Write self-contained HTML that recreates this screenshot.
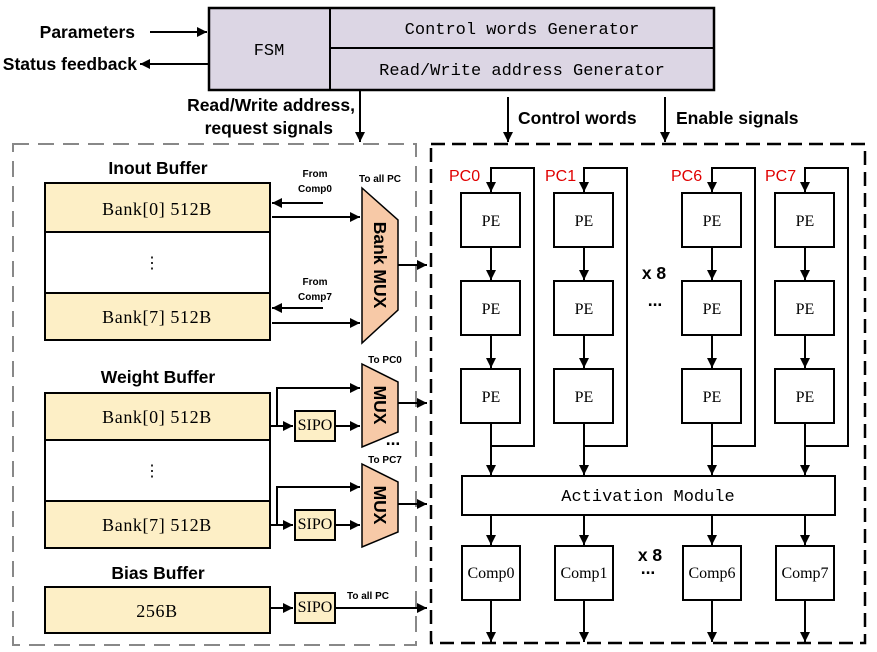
<!DOCTYPE html>
<html><head><meta charset="utf-8"><style>
html,body{margin:0;padding:0;background:#fff;}
svg{display:block;}
.lb{font-family:"Liberation Sans",sans-serif;font-weight:bold;font-size:17.5px;fill:#000;}
.sm{font-family:"Liberation Sans",sans-serif;font-weight:bold;font-size:10px;fill:#000;}
.sr{font-family:"Liberation Serif",serif;font-size:16px;fill:#000;}
.bk{font-family:"Liberation Serif",serif;font-size:18px;letter-spacing:0.6px;fill:#000;}
.mo{font-family:"Liberation Mono",monospace;font-size:17px;fill:#000;}
.pc{font-family:"Liberation Sans",sans-serif;font-size:16px;fill:#e00000;}
</style></head><body>
<svg width="877" height="652" viewBox="0 0 877 652" xmlns="http://www.w3.org/2000/svg">
<defs>
<marker id="a" viewBox="0 0 10 10" refX="10" refY="5" markerWidth="10" markerHeight="10" markerUnits="userSpaceOnUse" orient="auto"><path d="M0,0 L10,5 L0,10 z" fill="#000"/></marker>
</defs>
<g stroke="#000" stroke-width="2" fill="none">
<rect x="209" y="8" width="505" height="82" fill="#dcd6e4" stroke-width="2.5"/>
<line x1="330" y1="8" x2="330" y2="90"/>
<line x1="330" y1="48" x2="714" y2="48"/>
<line x1="150" y1="32" x2="207" y2="32" marker-end="url(#a)"/>
<line x1="209" y1="64" x2="140" y2="64" marker-end="url(#a)"/>
<line x1="360" y1="90" x2="360" y2="142" marker-end="url(#a)"/>
<line x1="508" y1="97" x2="508" y2="142" marker-end="url(#a)"/>
<line x1="665" y1="97" x2="665" y2="142" marker-end="url(#a)"/>
<rect x="13" y="144" width="403" height="501" stroke="#888" stroke-dasharray="16,9"/>
<rect x="431" y="144" width="434" height="499" stroke-width="2.5" stroke-dasharray="14,7"/>
<rect x="45" y="183" width="225" height="157" fill="#fff"/>
<rect x="45" y="183" width="225" height="49" fill="#fdefc6"/>
<rect x="45" y="293" width="225" height="47" fill="#fdefc6"/>
<line x1="323" y1="203" x2="272" y2="203" marker-end="url(#a)"/>
<line x1="272" y1="217" x2="360" y2="217" marker-end="url(#a)"/>
<line x1="323" y1="308" x2="272" y2="308" marker-end="url(#a)"/>
<line x1="272" y1="323" x2="360" y2="323" marker-end="url(#a)"/>
<polygon points="362,188 398,220 398,310 362,343" fill="#f7c9a7" stroke-width="1.5"/>
<line x1="398" y1="265" x2="427" y2="265" marker-end="url(#a)"/>
<rect x="45" y="393" width="225" height="155" fill="#fff"/>
<rect x="45" y="393" width="225" height="47" fill="#fdefc6"/>
<rect x="45" y="501" width="225" height="47" fill="#fdefc6"/>
<polyline points="270,426 277,426 277,388 360,388" marker-end="url(#a)"/>
<line x1="277" y1="426" x2="293" y2="426" marker-end="url(#a)"/>
<rect x="295" y="411" width="40" height="30" fill="#fdefc6"/>
<line x1="335" y1="426" x2="360" y2="426" marker-end="url(#a)"/>
<polygon points="362,364 398,382 398,432 362,447" fill="#f7c9a7" stroke-width="1.5"/>
<line x1="398" y1="403" x2="427" y2="403" marker-end="url(#a)"/>
<polyline points="270,525 277,525 277,487 360,487" marker-end="url(#a)"/>
<line x1="277" y1="525" x2="293" y2="525" marker-end="url(#a)"/>
<rect x="295" y="510" width="40" height="30" fill="#fdefc6"/>
<line x1="335" y1="525" x2="360" y2="525" marker-end="url(#a)"/>
<polygon points="362,464 398,482 398,532 362,547" fill="#f7c9a7" stroke-width="1.5"/>
<line x1="398" y1="504" x2="427" y2="504" marker-end="url(#a)"/>
<rect x="45" y="587" width="225" height="46" fill="#fdefc6"/>
<line x1="270" y1="608" x2="293" y2="608" marker-end="url(#a)"/>
<rect x="295" y="593" width="40" height="30" fill="#fdefc6"/>
<line x1="335" y1="608" x2="427" y2="608" marker-end="url(#a)"/>
<g id="col">
<rect x="461" y="193" width="59" height="54"/>
<rect x="461" y="281" width="59" height="54"/>
<rect x="461" y="369" width="59" height="54"/>
<polyline points="491,193 491,168 534,168 534,446 491,446"/>
<line x1="491" y1="168" x2="491" y2="192" marker-end="url(#a)"/>
<line x1="491" y1="247" x2="491" y2="280" marker-end="url(#a)"/>
<line x1="491" y1="335" x2="491" y2="368" marker-end="url(#a)"/>
<line x1="491" y1="423" x2="491" y2="475" marker-end="url(#a)"/>
<line x1="491" y1="515" x2="491" y2="545" marker-end="url(#a)"/>
<rect x="462" y="546" width="58" height="54"/>
<line x1="491" y1="600" x2="491" y2="642" marker-end="url(#a)"/>
</g>
<use href="#col" x="93"/>
<use href="#col" x="221"/>
<use href="#col" x="314"/>
<rect x="462" y="476" width="373" height="39" fill="#fff"/>
</g>
<text class="lb" x="135" y="38" text-anchor="end">Parameters</text>
<text class="lb" x="137" y="70" text-anchor="end">Status feedback</text>
<text class="mo" x="269" y="55" text-anchor="middle">FSM</text>
<text class="mo" x="522" y="34" text-anchor="middle">Control words Generator</text>
<text class="mo" x="522" y="75" text-anchor="middle">Read/Write address Generator</text>
<text class="lb" x="355" y="111" text-anchor="end">Read/Write address,</text>
<text class="lb" x="333" y="134" text-anchor="end">request signals</text>
<text class="lb" x="518" y="124">Control words</text>
<text class="lb" x="676" y="124">Enable signals</text>
<text class="lb" x="158" y="174" text-anchor="middle">Inout Buffer</text>
<text class="bk" x="157" y="215" text-anchor="middle">Bank[0] 512B</text>
<text class="sr" x="152" y="268" text-anchor="middle">⋮</text>
<text class="bk" x="157" y="323" text-anchor="middle">Bank[7] 512B</text>
<text class="sm" x="315" y="177" text-anchor="middle">From</text>
<text class="sm" x="315" y="192" text-anchor="middle">Comp0</text>
<text class="sm" x="315" y="285" text-anchor="middle">From</text>
<text class="sm" x="315" y="300" text-anchor="middle">Comp7</text>
<text class="sm" x="380" y="182" text-anchor="middle">To all PC</text>
<text class="lb" transform="translate(374,265) rotate(90)" text-anchor="middle" font-size="16">Bank MUX</text>
<text class="lb" x="158" y="383" text-anchor="middle">Weight Buffer</text>
<text class="bk" x="157" y="423" text-anchor="middle">Bank[0] 512B</text>
<text class="sr" x="152" y="476" text-anchor="middle">⋮</text>
<text class="bk" x="157" y="531" text-anchor="middle">Bank[7] 512B</text>
<text class="lb" x="158" y="579" text-anchor="middle">Bias Buffer</text>
<text class="bk" x="157" y="617" text-anchor="middle">256B</text>
<text class="sr" x="315" y="430" text-anchor="middle" font-size="10.5">SIPO</text>
<text class="sr" x="315" y="529" text-anchor="middle" font-size="10.5">SIPO</text>
<text class="sr" x="315" y="612" text-anchor="middle" font-size="10.5">SIPO</text>
<text class="sm" x="385" y="363" text-anchor="middle">To PC0</text>
<text class="sm" x="385" y="463" text-anchor="middle">To PC7</text>
<text class="lb" x="393" y="445" text-anchor="middle">...</text>
<text class="sm" x="368" y="599" text-anchor="middle">To all PC</text>
<text class="lb" transform="translate(374,405) rotate(90)" text-anchor="middle" font-size="16">MUX</text>
<text class="lb" transform="translate(374,505) rotate(90)" text-anchor="middle" font-size="16">MUX</text>
<g class="pc"><text x="449" y="181">PC0</text><text x="545" y="181">PC1</text><text x="671" y="181">PC6</text><text x="765" y="181">PC7</text></g>
<g class="sr" text-anchor="middle" font-size="17">
<text x="491" y="226">PE</text><text x="491" y="314">PE</text><text x="491" y="402">PE</text>
<text x="584" y="226">PE</text><text x="584" y="314">PE</text><text x="584" y="402">PE</text>
<text x="712" y="226">PE</text><text x="712" y="314">PE</text><text x="712" y="402">PE</text>
<text x="805" y="226">PE</text><text x="805" y="314">PE</text><text x="805" y="402">PE</text>
</g>
<text class="mo" x="648" y="501" text-anchor="middle">Activation Module</text>
<g class="sr" text-anchor="middle" font-size="13">
<text x="491" y="578">Comp0</text><text x="584" y="578">Comp1</text><text x="712" y="578">Comp6</text><text x="805" y="578">Comp7</text>
</g>
<text class="lb" x="654" y="279" text-anchor="middle" font-size="17">x 8</text>
<text class="lb" x="655" y="306" text-anchor="middle" font-size="15">...</text>
<text class="lb" x="650" y="561" text-anchor="middle" font-size="17">x 8</text>
<text class="lb" x="648" y="574" text-anchor="middle" font-size="15">...</text>
</svg>
</body></html>
